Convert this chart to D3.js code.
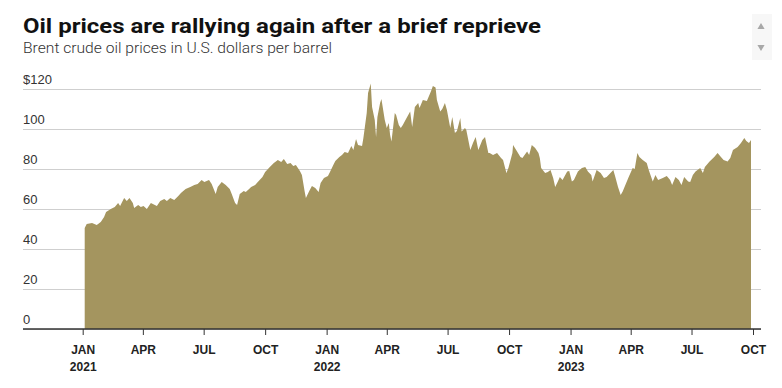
<!DOCTYPE html>
<html>
<head>
<meta charset="utf-8">
<script src="https://cdn.jsdelivr.net/npm/d3@7"></script>
<style>
  body { margin: 0; background: #fff; }
  svg { display: block; font-family: Roboto, 'Noto Sans', sans-serif; }
  .grid line { stroke: #cfcfcf; }
  .grid text { fill: #333; font-size: 13px; }
  .axis--x text { fill: #222; font-size: 12px; font-weight: 700; }
  .axis--x line { stroke: #333; }
</style>
</head>
<body>
<svg id="chart" width="782" height="388"></svg>
<script>
// Brent crude
const dates = [
  '2021-01-04', '2021-01-07', '2021-01-15', '2021-01-22', '2021-01-28', '2021-02-02', '2021-02-05', '2021-02-12',
  '2021-02-18', '2021-02-23', '2021-02-26', '2021-03-04', '2021-03-08', '2021-03-12', '2021-03-17', '2021-03-19',
  '2021-03-25', '2021-03-29', '2021-04-02', '2021-04-07', '2021-04-13', '2021-04-16', '2021-04-22', '2021-04-27',
  '2021-05-03', '2021-05-07', '2021-05-12', '2021-05-18', '2021-05-24', '2021-05-28', '2021-06-04', '2021-06-11',
  '2021-06-17', '2021-06-22', '2021-06-28', '2021-07-02', '2021-07-09', '2021-07-13', '2021-07-19', '2021-07-22',
  '2021-07-28', '2021-08-03', '2021-08-09', '2021-08-12', '2021-08-17', '2021-08-20', '2021-08-24', '2021-08-30',
  '2021-09-02', '2021-09-07', '2021-09-10', '2021-09-16', '2021-09-20', '2021-09-27', '2021-10-01', '2021-10-08',
  '2021-10-14', '2021-10-20', '2021-10-25', '2021-10-29', '2021-11-03', '2021-11-08', '2021-11-12', '2021-11-16',
  '2021-11-22', '2021-11-25', '2021-11-29', '2021-12-01', '2021-12-06', '2021-12-10', '2021-12-15', '2021-12-20',
  '2021-12-23', '2021-12-28', '2022-01-03', '2022-01-06', '2022-01-11', '2022-01-14', '2022-01-20', '2022-01-24',
  '2022-01-28', '2022-02-02', '2022-02-07', '2022-02-10', '2022-02-14', '2022-02-17', '2022-02-23', '2022-02-25',
  '2022-03-02', '2022-03-04', '2022-03-08', '2022-03-10', '2022-03-14', '2022-03-16', '2022-03-18', '2022-03-22',
  '2022-03-24', '2022-03-29', '2022-04-01', '2022-04-04', '2022-04-06', '2022-04-08', '2022-04-13', '2022-04-15',
  '2022-04-19', '2022-04-22', '2022-04-25', '2022-04-29', '2022-05-06', '2022-05-09', '2022-05-13', '2022-05-18',
  '2022-05-20', '2022-05-25', '2022-05-31', '2022-06-06', '2022-06-09', '2022-06-13', '2022-06-15', '2022-06-20',
  '2022-06-23', '2022-06-27', '2022-06-30', '2022-07-05', '2022-07-08', '2022-07-12', '2022-07-15', '2022-07-20',
  '2022-07-22', '2022-07-27', '2022-07-29', '2022-08-04', '2022-08-08', '2022-08-12', '2022-08-16', '2022-08-22',
  '2022-08-26', '2022-08-31', '2022-09-02', '2022-09-07', '2022-09-13', '2022-09-19', '2022-09-22', '2022-09-27',
  '2022-09-30', '2022-10-06', '2022-10-07', '2022-10-13', '2022-10-18', '2022-10-21', '2022-10-28', '2022-10-31',
  '2022-11-04', '2022-11-09', '2022-11-14', '2022-11-16', '2022-11-18', '2022-11-24', '2022-11-28', '2022-12-02',
  '2022-12-06', '2022-12-09', '2022-12-13', '2022-12-16', '2022-12-20', '2022-12-27', '2022-12-30', '2023-01-03',
  '2023-01-06', '2023-01-12', '2023-01-18', '2023-01-23', '2023-01-27', '2023-02-01', '2023-02-03', '2023-02-09',
  '2023-02-15', '2023-02-20', '2023-02-24', '2023-03-06', '2023-03-09', '2023-03-13', '2023-03-17', '2023-03-20',
  '2023-03-24', '2023-03-29', '2023-04-04', '2023-04-07', '2023-04-11', '2023-04-14', '2023-04-19', '2023-04-25',
  '2023-04-28', '2023-05-04', '2023-05-08', '2023-05-12', '2023-05-19', '2023-05-25', '2023-05-30', '2023-06-02',
  '2023-06-07', '2023-06-12', '2023-06-16', '2023-06-20', '2023-06-26', '2023-06-29', '2023-07-03', '2023-07-07',
  '2023-07-14', '2023-07-18', '2023-07-21', '2023-07-28', '2023-08-04', '2023-08-09', '2023-08-14', '2023-08-18',
  '2023-08-24', '2023-08-28', '2023-09-01', '2023-09-08', '2023-09-13', '2023-09-18', '2023-09-21', '2023-09-25',
  '2023-09-28'
]
const prices = [
  50.5, 52.5, 53, 52, 53.5, 56, 58.5, 60,
  61, 63, 61.5, 65.5, 64, 65.5, 63, 60.5,
  62, 61, 61.5, 60, 63, 62.5, 61.5, 64,
  65, 64, 65.5, 64.5, 66.5, 68, 70, 71,
  72, 72.5, 74.5, 73.5, 74.5, 72.5, 67.5, 71,
  73.5, 72, 70, 67.5, 63, 62, 67.5, 69,
  68.5, 70, 71, 72, 73.5, 76, 78.5, 81,
  83, 84.5, 83.5, 85, 82.5, 83, 81.5, 82,
  79, 77, 69, 65.5, 69, 71.5, 70.5, 68.5,
  73, 75.5, 76.5, 78.5, 82, 84, 86, 87,
  88.5, 88, 91.5, 89.5, 95, 92, 91.5, 95.5,
  108, 118, 122.8, 111, 104.5, 96, 106, 113,
  115, 104.5, 100.5, 103, 97, 93.7, 108, 107,
  102, 100.5, 102, 104.5, 108.7, 101, 111, 113,
  110.5, 114.5, 114, 118.7, 121.5, 120.8, 114.5, 108.7,
  110, 113, 109.5, 100.5, 106, 98, 99, 105.5,
  98.7, 100.5, 99.5, 89.5, 93, 96, 89.5, 94.5,
  96, 88, 88, 87, 88, 85.5, 84.5, 78,
  80.5, 88, 92, 88.7, 86, 85.5, 88.7, 87,
  92, 90.5, 88, 85.5, 80.5, 78, 78.5, 79.5,
  75.5, 71, 73.7, 76, 74.5, 78.7, 79, 73.7,
  74.5, 78.7, 80.5, 81, 78.7, 77, 73.7, 79.5,
  78, 75.5, 76, 79.5, 76, 71, 67, 68.7,
  72, 76, 80.5, 80, 88, 86, 84.5, 83,
  79.5, 73.7, 77, 74.5, 75.5, 76.5, 74.5, 72,
  76, 74.5, 72, 76, 73.7, 73.5, 77, 78.7,
  80.5, 78, 81, 83.7, 86, 88, 86, 84.5,
  83.7, 85.5, 89.5, 91, 93, 95.5, 94, 93,
  94.5
]
const yTicks = [0, 20, 40, 60, 80, 100, 120]
const xTicks = [
  '2021-01-01', '2021-04-01', '2021-07-01', '2021-10-01',
  '2022-01-01', '2022-04-01', '2022-07-01', '2022-10-01',
  '2023-01-01', '2023-04-01', '2023-07-01', '2023-10-01'
]
const monthNames = ['JAN', 'FEB', 'MAR', 'APR', 'MAY', 'JUN', 'JUL', 'AUG', 'SEP', 'OCT', 'NOV', 'DEC']

const parse = d3.utcParse('%Y-%m-%d')
const data = dates.map(function (d, i) { return { date: parse(d), price: prices[i] } })

const svg = d3.select('#chart')
const left = 23
const right = 761

const x = d3.scaleUtc()
  .domain([parse('2021-01-01'), parse('2023-10-01')])
  .range([82.7, 753])

const y = d3.scaleLinear()
  .domain([0, 120])
  .range([329, 89])

// titles
svg.append('text')
  .attr('x', 23).attr('y', 33)
  .attr('font-size', 20.5).attr('font-weight', 700).attr('fill', '#111')
  .attr('textLength', 518).attr('lengthAdjust', 'spacingAndGlyphs')
  .text('Oil prices are rallying again after a brief reprieve')

svg.append('text')
  .attr('x', 23).attr('y', 53)
  .attr('font-size', 15).attr('font-weight', 300).attr('fill', '#333')
  .attr('textLength', 309).attr('lengthAdjust', 'spacingAndGlyphs')
  .text('Brent crude oil prices in U.S. dollars per barrel')

// scroll arrows, top right
svg.append('rect')
  .attr('x', 752).attr('y', 14).attr('width', 20).attr('height', 46)
  .attr('fill', '#f7f7f7')
svg.append('path')
  .attr('d', d3.symbol(d3.symbolTriangle, 22)())
  .attr('transform', 'translate(761,27)')
  .attr('fill', '#a8a8a8')
svg.append('path')
  .attr('d', d3.symbol(d3.symbolTriangle, 22)())
  .attr('transform', 'translate(761,47) rotate(180)')
  .attr('fill', '#a8a8a8')

// gridlines + y labels
const grid = svg.append('g')
  .attr('class', 'grid')
  .attr('transform', 'translate(' + left + ',0)')
  .call(d3.axisRight(y)
    .tickValues(yTicks)
    .tickSize(right - left)
    .tickFormat(function (d) { return d === 120 ? '$120' : d }))
grid.select('.domain').remove()
grid.selectAll('.tick text')
  .attr('x', 0).attr('dy', -6)
  .attr('text-anchor', 'start')
  .attr('dominant-baseline', 'auto')

// the area
const area = d3.area()
  .x(function (d) { return x(d.date) })
  .y0(y(0))
  .y1(function (d) { return y(d.price) })

svg.append('path')
  .datum(data)
  .attr('fill', '#a4955f')
  .attr('d', area)

// x axis
const xAxis = svg.append('g')
  .attr('class', 'axis axis--x')
  .attr('transform', 'translate(0,' + y(0) + ')')
  .call(d3.axisBottom(x)
    .tickValues(xTicks.map(parse))
    .tickSize(6)
    .tickFormat(''))
xAxis.select('.domain').remove()
xAxis.append('line')
  .attr('x1', left).attr('x2', right)
  .attr('stroke', '#333').attr('stroke-width', 1.3)

xAxis.selectAll('.tick').each(function (d) {
  const t = d3.select(this).select('text')
  t.attr('y', 0).attr('dy', null)
  t.append('tspan').attr('x', 0).attr('y', 25).text(monthNames[d.getUTCMonth()])
  if (d.getUTCMonth() === 0) {
    t.append('tspan').attr('x', 0).attr('y', 42).text(d.getUTCFullYear())
  }
})
</script>
</body>
</html>
